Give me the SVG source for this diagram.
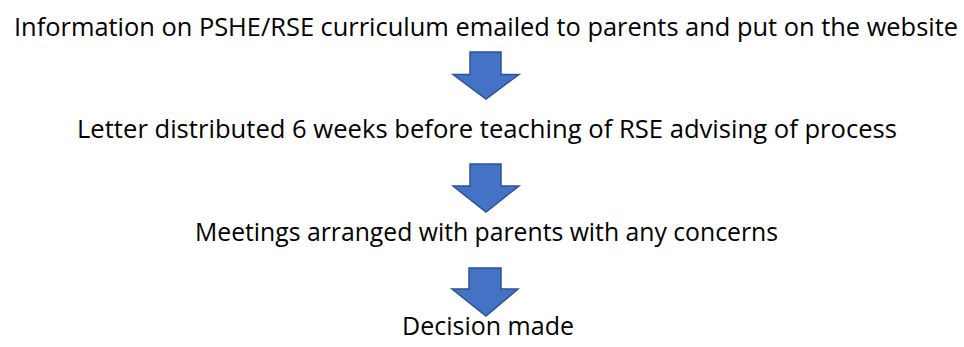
<svg xmlns="http://www.w3.org/2000/svg" width="964" height="347" viewBox="0 0 964 347">
<style>
.t{font-family:"Open Sans","Noto Sans","Liberation Sans",sans-serif;font-size:26px;fill:#000;text-anchor:middle}
.a{fill:#4472C4;stroke:#2F528F;stroke-width:1.5;stroke-linejoin:miter}
</style>
<rect width="964" height="347" fill="#fff"/>
<g id="step1"><text class="t" x="486" y="36" textLength="944" lengthAdjust="spacingAndGlyphs">Information on PSHE/RSE curriculum emailed to parents and put on the website</text></g>
<g id="step2"><text class="t" x="487" y="138" textLength="820" lengthAdjust="spacingAndGlyphs">Letter distributed 6 weeks before teaching of RSE advising of process</text></g>
<g id="step3"><text class="t" x="486.5" y="241" textLength="583" lengthAdjust="spacingAndGlyphs">Meetings arranged with parents with any concerns</text></g>
<g id="step4"><text class="t" x="488" y="335" textLength="172" lengthAdjust="spacingAndGlyphs">Decision made</text></g>
<g id="connectors">
<polygon class="a" points="470,52 501,52 501,74.5 519,74.5 486,99 453,74.5 470,74.5"/>
<polygon class="a" points="470,164 501,164 501,186 519,186 486,212 453,186 470,186"/>
<polygon class="a" points="469,268 501,268 501,289 518,289 486,316 452,289 469,289"/>
</g>
</svg>
